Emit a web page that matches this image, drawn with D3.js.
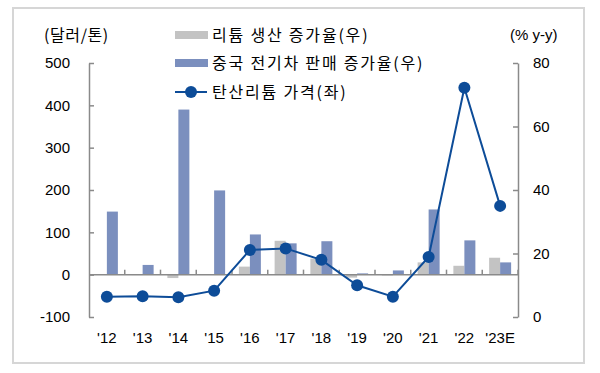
<!DOCTYPE html>
<html>
<head>
<meta charset="utf-8">
<script src="https://cdn.jsdelivr.net/npm/d3@7"></script>
<style>
  body { margin: 0; background: #fff; }
  text { font-family: "Liberation Sans", Arial, sans-serif; fill: #000; }
  .kr { font-family: "Noto Sans CJK KR", sans-serif; }
</style>
</head>
<body>
<div id="chart"></div>
<script>
// data
const years = ["'12", "'13", "'14", "'15", "'16", "'17", "'18", "'19", "'20", "'21", "'22", "'23E"];
const lithiumProd = [1, -1, -8, 0, 19, 80, 38, -7, -2, 29, 21, 40];       // 리튬 생산 증가율
const evSales = [149, 23, 390, 199, 95, 74, 79, 3, 10, 154, 81, 29];       // 중국 전기차 판매 증가율
const carbonatePrice = [6.4, 6.5, 6.2, 8.3, 21.1, 21.6, 18.0, 10.0, 6.4, 18.9, 72.2, 35.0]; // 탄산리튬 가격
const leftTicks = [-100, 0, 100, 200, 300, 400, 500];
const rightTicks = [0, 20, 40, 60, 80];

const legendItems = [
  { label: "리튬 생산 증가율(우)", type: "bar", color: "#c3c3c3" },
  { label: "중국 전기차 판매 증가율(우)", type: "bar", color: "#7b8fbe" },
  { label: "탄산리튬 가격(좌)", type: "line", color: "#0d4c98" }
];

const width = 600, height = 373;
const plot = { left: 89, right: 518, top: 63, bottom: 317 };
const axisColor = "#8a8a8a";

const svg = d3.select("#chart").append("svg")
  .attr("width", width).attr("height", height);

// outer frame
svg.append("rect")
  .attr("x", 13).attr("y", 8).attr("width", 571).attr("height", 355)
  .attr("fill", "none").attr("stroke", "#d6d6d6").attr("stroke-width", 2);

const x = d3.scaleBand().domain(years).range([plot.left, plot.right]);
const bw = x.bandwidth();
const xSub = d3.scaleBand().domain(["prod", "ev"]).range([bw / 2 - 11, bw / 2 + 11]);
const yL = d3.scaleLinear().domain([-100, 500]).range([plot.bottom, plot.top]);
const yR = d3.scaleLinear().domain([0, 80]).range([plot.bottom, plot.top]);

// bars (drawn against the left scale, as in the source)
const barSeries = [
  { key: "prod", values: lithiumProd, color: legendItems[0].color },
  { key: "ev", values: evSales, color: legendItems[1].color }
];
barSeries.forEach(s => {
  svg.append("g").selectAll("rect")
    .data(s.values)
    .join("rect")
    .attr("x", (d, i) => x(years[i]) + xSub(s.key))
    .attr("width", xSub.bandwidth())
    .attr("y", d => yL(Math.max(0, d)))
    .attr("height", d => Math.abs(yL(d) - yL(0)))
    .attr("fill", s.color);
});

// left axis
const gL = svg.append("g")
  .attr("transform", `translate(${plot.left},0)`)
  .call(d3.axisLeft(yL).tickValues(leftTicks).tickFormat(d => String(d))
    .tickSizeInner(-5).tickSizeOuter(0).tickPadding(19));
// right axis
const gR = svg.append("g")
  .attr("transform", `translate(${plot.right},0)`)
  .call(d3.axisRight(yR).tickValues(rightTicks).tickFormat(d => String(d))
    .tickSizeInner(-5).tickSizeOuter(0).tickPadding(15));

[gL, gR].forEach(g => {
  g.select(".domain").attr("stroke", axisColor).attr("stroke-width", 1.5);
  g.selectAll(".tick line").attr("stroke", axisColor).attr("stroke-width", 1.5);
  g.selectAll(".tick text").attr("font-size", 15).attr("font-family", "Liberation Sans, Arial, sans-serif").attr("fill", "#000");
});

// category axis on the zero line
const zeroY = yL(0);
const gX = svg.append("g");
gX.append("line")
  .attr("x1", plot.left).attr("x2", plot.right)
  .attr("y1", zeroY).attr("y2", zeroY)
  .attr("stroke", axisColor).attr("stroke-width", 1.5);
gX.selectAll("line.sep")
  .data(years.slice(1).concat(["end"]))
  .join("line")
  .attr("class", "sep")
  .attr("x1", (d, i) => plot.left + (i + 1) * bw)
  .attr("x2", (d, i) => plot.left + (i + 1) * bw)
  .attr("y1", zeroY).attr("y2", zeroY - 5)
  .attr("stroke", axisColor).attr("stroke-width", 1.5);
gX.selectAll("text")
  .data(years)
  .join("text")
  .attr("x", d => x(d) + bw / 2)
  .attr("y", 343)
  .attr("text-anchor", "middle")
  .attr("font-size", 15)
  .text(d => d);

// price line (right scale)
const line = d3.line()
  .x((d, i) => x(years[i]) + bw / 2)
  .y(d => yR(d));
svg.append("path")
  .datum(carbonatePrice)
  .attr("d", line)
  .attr("fill", "none")
  .attr("stroke", legendItems[2].color)
  .attr("stroke-width", 2);
svg.append("g").selectAll("circle")
  .data(carbonatePrice)
  .join("circle")
  .attr("cx", (d, i) => x(years[i]) + bw / 2)
  .attr("cy", d => yR(d))
  .attr("r", 6)
  .attr("fill", legendItems[2].color);

// axis titles
svg.append("text").attr("class", "kr")
  .attr("x", 44).attr("y", 41)
  .attr("font-size", 16)
  .attr("letter-spacing", 0.6)
  .text("(달러/톤)");
svg.append("text")
  .attr("x", 510).attr("y", 40)
  .attr("font-size", 15)
  .text("(% y-y)");

// legend
const legendRows = [35, 63, 92];
const lg = svg.append("g").selectAll("g")
  .data(legendItems)
  .join("g")
  .attr("transform", (d, i) => `translate(175,${legendRows[i]})`);
lg.filter(d => d.type === "bar").append("rect")
  .attr("x", 0).attr("y", -4).attr("width", 33).attr("height", 8)
  .attr("fill", d => d.color);
lg.filter(d => d.type === "line").append("line")
  .attr("x1", 0).attr("x2", 32).attr("y1", 0).attr("y2", 0)
  .attr("stroke", d => d.color).attr("stroke-width", 2);
lg.filter(d => d.type === "line").append("circle")
  .attr("cx", 16).attr("cy", 0).attr("r", 6)
  .attr("fill", d => d.color);
lg.append("text").attr("class", "kr")
  .attr("x", 37).attr("y", 6)
  .attr("font-size", 16)
  .attr("letter-spacing", 1.8)
  .text(d => d.label);
</script>
</body>
</html>
